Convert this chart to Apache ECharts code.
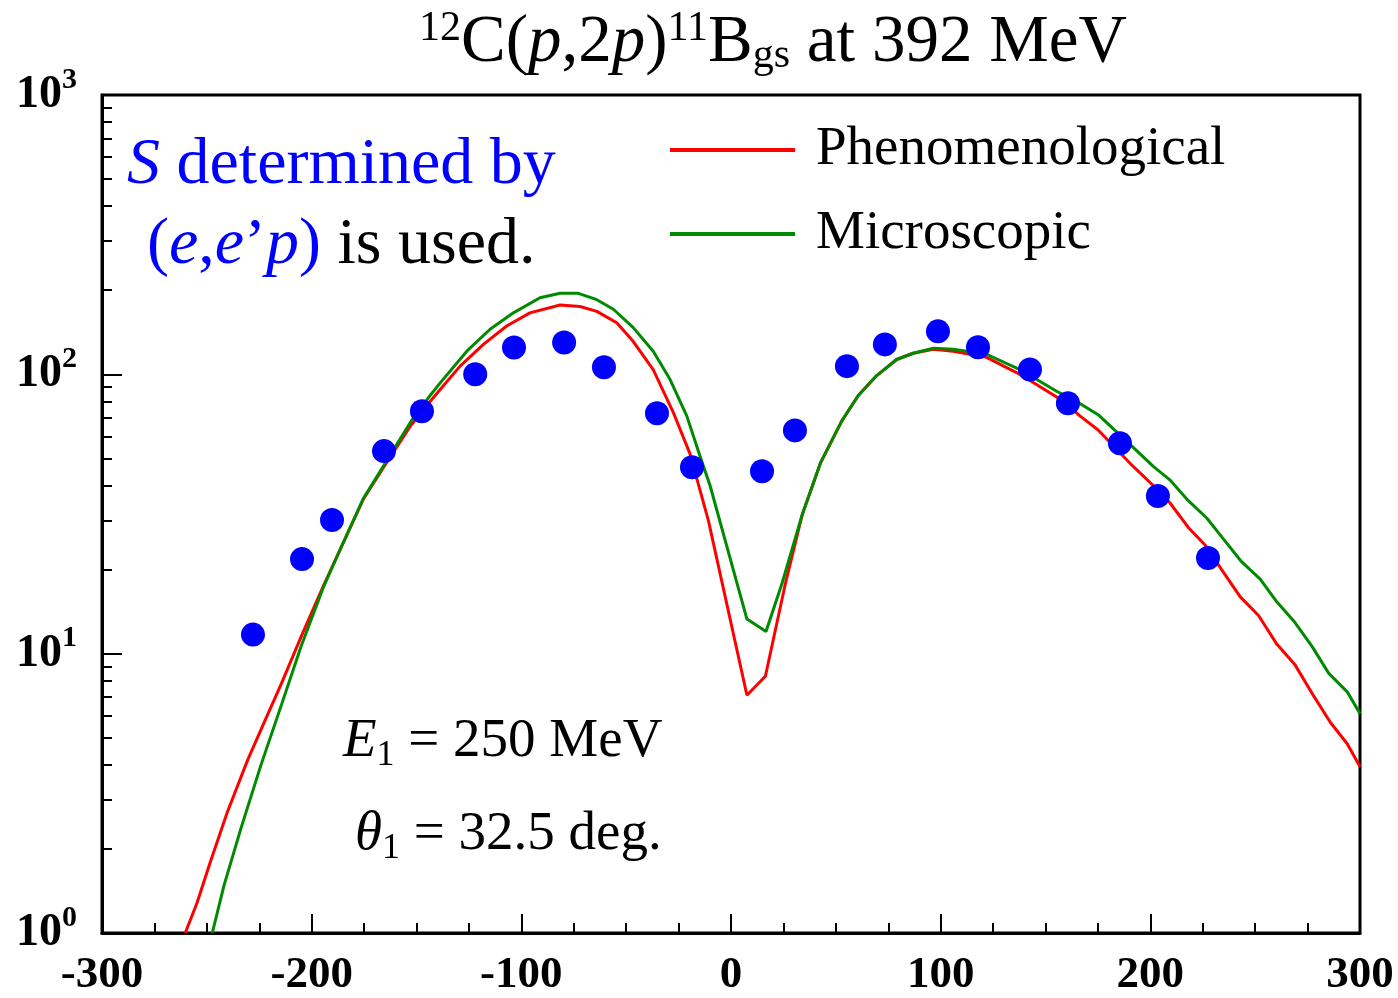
<!DOCTYPE html>
<html><head><meta charset="utf-8">
<script src="https://cdn.jsdelivr.net/npm/echarts@6/dist/echarts.min.js"></script>
<style>html,body{margin:0;padding:0;background:#fff}#c{width:1398px;height:998px}</style>
</head><body><div id="c"></div>
<script>
const xTickValues = [-300, -200, -100, 0, 100, 200, 300];
const yMajorTicks = [1, 10, 100, 1000];
const yMinorTicks = [2,3,4,5,6,7,8,9,20,30,40,50,60,70,80,90,200,300,400,500,600,700,800,900];

const experiment = [
  [-228, 11.7], [-204.6, 21.8], [-190.3, 30.1], [-165.5, 53.1], [-147.4, 73.8],
  [-122, 100], [-103.5, 124.8], [-79.6, 130], [-60.6, 106], [-35.3, 72.5],
  [-18.6, 46.5], [14.8, 45], [30.5, 63], [55.3, 107], [73.4, 128],
  [98.7, 142.5], [117.8, 125], [142.6, 104], [160.7, 78.8], [185.5, 56.7],
  [203.6, 36.7], [227.5, 22]
];

const phenomenological = [
  [-260.3, 1.0], [-254.7, 1.28], [-248.3, 1.80], [-240.2, 2.71], [-230.6, 4.15],
  [-222.6, 5.69], [-214.5, 7.8], [-204.8, 11.6], [-194.4, 17.5], [-184.9, 25.0],
  [-175.3, 35.8], [-164.2, 48.4], [-153.1, 65], [-143.5, 80], [-138.8, 88],
  [-129.2, 107], [-118.1, 128], [-107, 149], [-95.9, 166], [-81.5, 177],
  [-72, 175], [-64, 168], [-54.5, 153], [-46.6, 131], [-37.1, 104],
  [-27.5, 73], [-19.6, 52], [-10.8, 30], [7.6, 7.1], [16.4, 8.3],
  [26, 17.9], [34, 31.5], [42.8, 48.4], [52.8, 68], [60.7, 84],
  [69.5, 99], [79, 113], [86.9, 119], [96.5, 123], [106, 121],
  [121.9, 115], [137.8, 100], [155.3, 83], [160.7, 77.5], [166.4, 71],
  [175.1, 63.2], [191.8, 46.8], [201.4, 40], [209.3, 34.7], [218.1, 28.3],
  [226.1, 24.5], [234, 20.0], [242.8, 16.0], [251.6, 13.7], [260.4, 10.8],
  [269.1, 9.1], [277.9, 7.06], [285.9, 5.67], [293.9, 4.76], [300, 3.94]
];

const microscopic = [
  [-247.4, 1.0], [-241.8, 1.48], [-233.8, 2.36], [-224.2, 3.99], [-214.5, 6.53],
  [-204.9, 10.7], [-194.4, 17.3], [-184.9, 25], [-175.3, 36], [-164.2, 49],
  [-153.1, 67], [-143.5, 84], [-138.8, 93], [-126, 121], [-114.9, 145],
  [-103.8, 166], [-91.1, 188], [-81.5, 195], [-72.8, 195], [-64, 185],
  [-56.1, 171], [-46.6, 147], [-37.1, 121], [-29.1, 96], [-21.1, 71],
  [-14.8, 51], [-10, 40], [7.6, 13.3], [16.7, 12.0], [24.4, 17.9],
  [34, 31.5], [42.8, 48.4], [52.8, 68], [60.7, 84], [69.5, 99],
  [79, 113], [86.9, 119], [96.5, 124], [106, 123], [121.9, 118],
  [137.8, 104], [155.3, 87], [164.8, 80], [175.1, 71.7], [183.9, 62.2],
  [191.8, 54.8], [201.4, 46.8], [209.3, 41.9], [218.1, 35.3], [226.9, 30.6],
  [234.9, 25.7], [243.6, 21.3], [252.4, 18.5], [260.4, 15.3], [268.4, 13.1],
  [277.2, 10.6], [285.1, 8.5], [293.9, 7.3], [300, 6.1]
];

const SERIF = '"Liberation Serif", "Times New Roman", serif';
const chart = echarts.init(document.getElementById('c'), null, {renderer: 'canvas'});

const option = {
  animation: false,
  backgroundColor: '#fff',
  grid: {left: 102, right: 38, top: 95, bottom: 63, show: true, borderColor: '#000', borderWidth: 3},
  xAxis: {
    type: 'value', min: -300, max: 300, interval: 100,
    axisLine: {show: true, onZero: false, lineStyle: {color: '#000', width: 3}},
    axisTick: {show: true, inside: true, length: 19, lineStyle: {color: '#000', width: 2}, customValues: xTickValues},
    minorTick: {show: true, splitNumber: 4, length: 10, lineStyle: {color: '#000', width: 2}},
    splitLine: {show: false},
    axisLabel: {margin: 20, color: '#000', fontFamily: SERIF, fontWeight: 'bold', fontSize: 45, customValues: xTickValues}
  },
  yAxis: [{
    type: 'log', logBase: 10, min: 1, max: 1000,
    axisLine: {show: true, onZero: false, lineStyle: {color: '#000', width: 3}},
    axisTick: {show: true, inside: true, length: 20, lineStyle: {color: '#000', width: 2}, customValues: yMajorTicks},
    splitLine: {show: false},
    axisLabel: {
      margin: 25, customValues: yMajorTicks,
      formatter: v => '{b|10}{s|' + Math.round(Math.log10(v)) + '}',
      rich: {
        b: {fontFamily: SERIF, fontWeight: 'bold', fontSize: 46, color: '#000', lineHeight: 46},
        s: {fontFamily: SERIF, fontWeight: 'bold', fontSize: 30, color: '#000', padding: [0,0,30,0]}
      }
    }
  }, {
    type: 'log', logBase: 10, min: 1, max: 1000, position: 'left', offset: 0,
    axisLine: {show: false, onZero: false},
    axisTick: {show: true, inside: true, length: 10, lineStyle: {color: '#000', width: 2}, customValues: yMinorTicks},
    axisLabel: {show: false},
    splitLine: {show: false}
  }],
  legend: {
    data: ['Phenomenological', 'Microscopic'],
    orient: 'vertical', left: 670, top: 122, padding: 0,
    icon: 'rect', itemWidth: 125, itemHeight: 4, itemGap: 28,
    textStyle: {fontFamily: SERIF, fontSize: 55, color: '#000', lineHeight: 56, padding: [0,0,0,16]}
  },
  series: [
    {name: 'Phenomenological', type: 'line', data: phenomenological, showSymbol: false, symbol: 'none',
     lineStyle: {color: '#ff0000', width: 3}, itemStyle: {color: '#ff0000'}, z: 2, clip: true},
    {name: 'Microscopic', type: 'line', data: microscopic, showSymbol: false, symbol: 'none',
     lineStyle: {color: '#008a00', width: 3}, itemStyle: {color: '#008a00'}, z: 3, clip: true},
    {name: 'Data', type: 'scatter', data: experiment, symbol: 'circle', symbolSize: 24,
     itemStyle: {color: '#0000ff', opacity: 1}, z: 5}
  ],
  graphic: [
    {type: 'text', left: 419, top: 8, style: {
      text: '{sup|12}{n|C(}{i|p}{n|,2}{i|p}{n|)}{sup|11}{n|B}{sub|gs}{n| at 392 MeV}',
      rich: {
        n: {fontFamily: SERIF, fontSize: 67, fill: '#000', lineHeight: 70},
        i: {fontFamily: SERIF, fontSize: 67, fontStyle: 'italic', fill: '#000', lineHeight: 70},
        sup: {fontFamily: SERIF, fontSize: 42, fill: '#000', padding: [0,0,28,0]},
        sub: {fontFamily: SERIF, fontSize: 42, fill: '#000', padding: [26,0,0,0]}
      }
    }},
    {type: 'text', x: 127, y: 166, style: {
      text: '{i|S}{n| determined by}', verticalAlign: 'middle', align: 'left',
      rich: {
        n: {fontFamily: SERIF, fontSize: 66, fill: '#0000ff'},
        i: {fontFamily: SERIF, fontSize: 66, fontStyle: 'italic', fill: '#0000ff'}
      }
    }},
    {type: 'text', x: 147, y: 246, style: {
      text: '{n|(}{i|e}{n|,}{i|e}{n|\u2019}{i|p}{n|)}{k| is used.}', verticalAlign: 'middle', align: 'left',
      rich: {
        n: {fontFamily: SERIF, fontSize: 66, fill: '#0000ff'},
        i: {fontFamily: SERIF, fontSize: 66, fontStyle: 'italic', fill: '#0000ff'},
        k: {fontFamily: SERIF, fontSize: 66, fill: '#000'}
      }
    }},
    {type: 'text', x: 343, y: 742, style: {
      text: '{i|E}{sub|1}{n| = 250 MeV}', verticalAlign: 'middle', align: 'left',
      rich: {
        n: {fontFamily: SERIF, fontSize: 55, fill: '#000'},
        i: {fontFamily: SERIF, fontSize: 55, fontStyle: 'italic', fill: '#000'},
        sub: {fontFamily: SERIF, fontSize: 36, fill: '#000', padding: [28,0,0,0]}
      }
    }},
    {type: 'text', x: 355, y: 835, style: {
      text: '{i|\u03b8}{sub|1}{n| = 32.5 deg.}', verticalAlign: 'middle', align: 'left',
      rich: {
        n: {fontFamily: SERIF, fontSize: 55, fill: '#000'},
        i: {fontFamily: SERIF, fontSize: 55, fontStyle: 'italic', fill: '#000'},
        sub: {fontFamily: SERIF, fontSize: 36, fill: '#000', padding: [28,0,0,0]}
      }
    }}
  ]
};
chart.setOption(option);
</script>
</body></html>
